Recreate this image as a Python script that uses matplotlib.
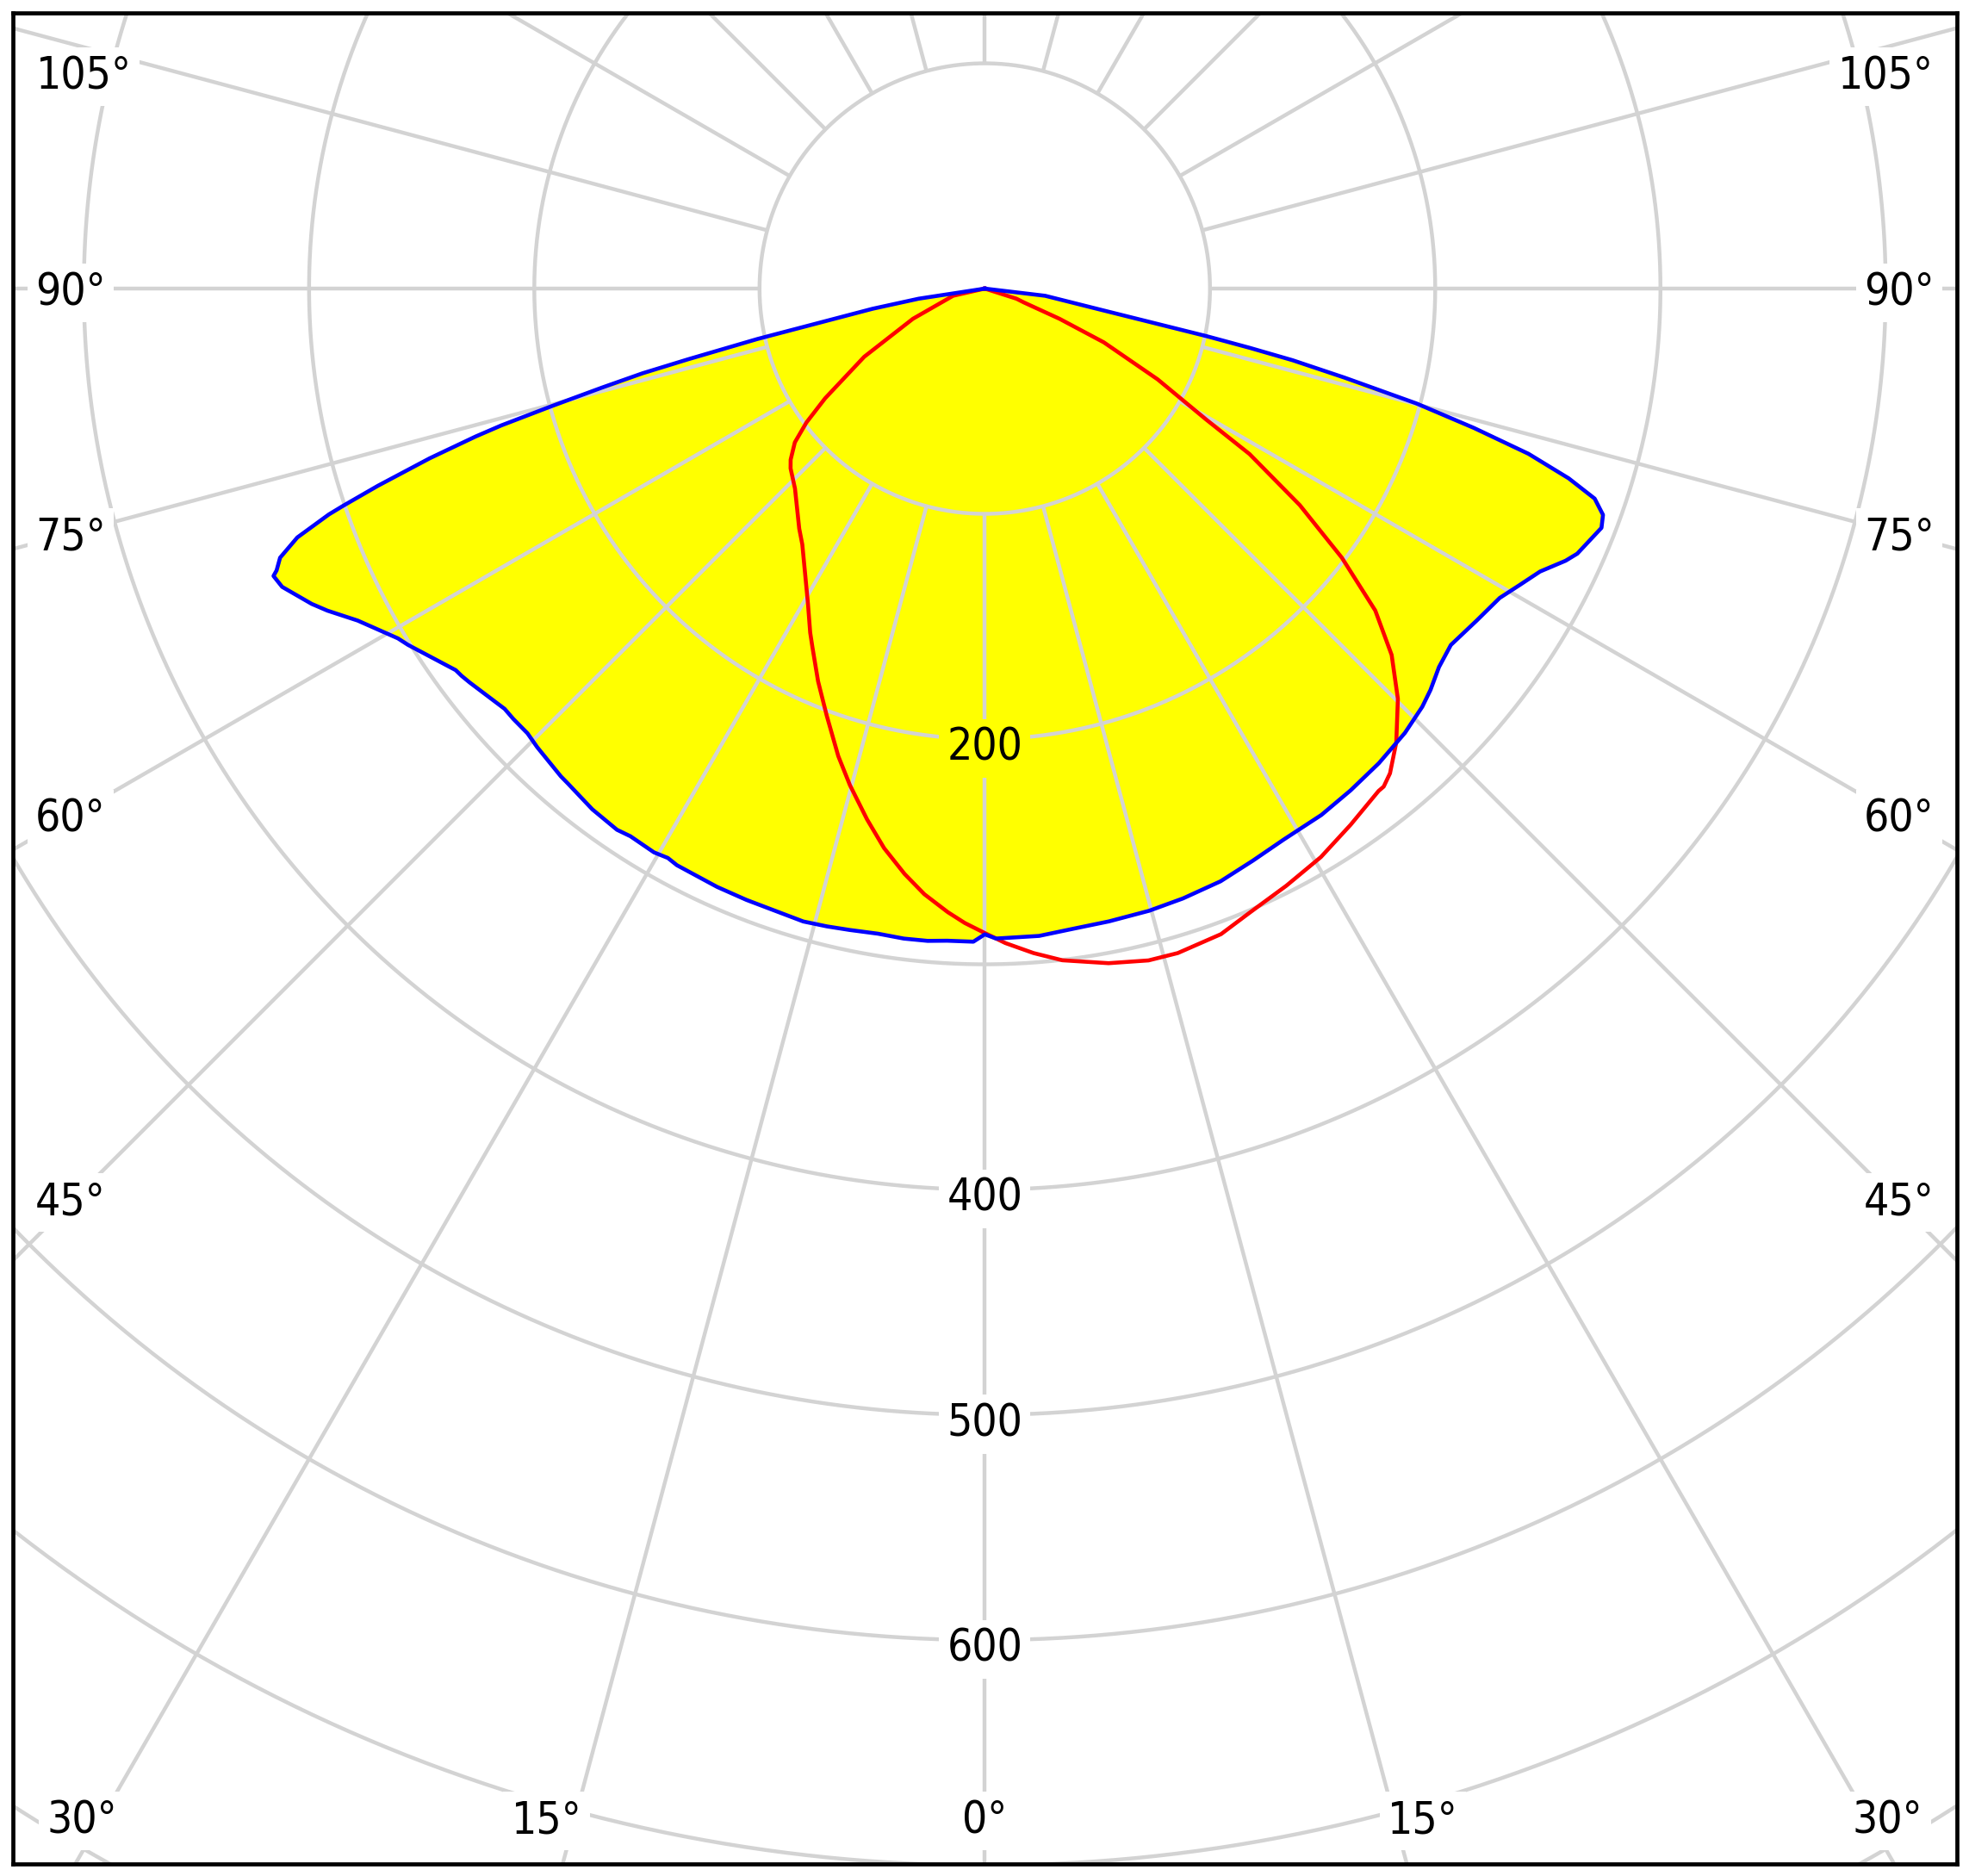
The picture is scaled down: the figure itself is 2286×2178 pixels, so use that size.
import numpy as np
import matplotlib
matplotlib.use("Agg")
from matplotlib import pyplot as plt

# Courbe C0 / C180 (bleue, remplie) : angle gamma en degrés, intensité en cd
c180_gamma = [90, 81.3, 79.8, 77.5, 76.6, 76.1, 75.5, 74.8, 74.2, 73.8,
              73.0, 72.0, 71.3, 71.0, 70.1, 69.1, 68.3, 68.0, 67.0, 64.9,
              63.9, 62.1, 59.2, 58.3, 54.2, 53.5, 52.6, 48.8, 47.6, 45.8,
              44.3, 41.0, 40.1, 37.0, 34.2, 32.9, 30.4, 29.1, 28.1, 24.1,
              21.3, 19.2, 16.0, 13.9, 11.9, 9.4, 7.1, 5.0, 3.3, 1.0]
c180_cd = [0, 29.7, 50.6, 103.3, 135.2, 156.5, 175.5, 199.8, 223.0, 235.4,
           257.7, 283.3, 300.7, 308.0, 324.6, 334.9, 338.4, 340.6, 338.9, 330.0,
           325.0, 315.0, 303.3, 301.0, 289.6, 289.0, 287.9, 283.3, 283.4, 283.2,
           284.5, 286.9, 287.3, 289.5, 290.5, 289.6, 290.2, 289.3, 290.2, 291.0,
           291.3, 291.4, 292.3, 291.7, 291.0, 290.3, 290.8, 290.7, 290.0, 290.0]
c0_gamma = [0, 1.0, 4.8, 7.9, 11.1, 14.8, 18.0, 21.7, 25.1, 28.5,
            32.6, 36.1, 39.7, 43.4, 46.3, 48.0, 50.2, 52.6, 56.0, 59.0,
            61.0, 63.0, 64.9, 65.9, 68.8, 69.9, 71.0, 72.0, 73.1, 74.1,
            75.1, 76.1, 76.9, 77.4, 77.9, 79.6, 83.2, 90]
c0_cd = [286.7, 288.6, 288.4, 286.9, 286.3, 285.7, 284.7, 283.2, 280.5, 278.3,
         277.4, 275.7, 273.9, 271.5, 268.7, 266.3, 262.5, 260.5, 263.5, 266.7,
         271.5, 276.7, 284.8, 288.2, 293.7, 292.3, 286.4, 272.6, 252.3, 225.8,
         198.3, 164.5, 140.3, 120.4, 100.6, 53.2, 27.0, 0]

# Courbe C90 / C270 (rouge)
c270_gamma = [90, 77.2, 67.2, 60.5, 55.5, 53.1, 51.0, 48.6, 47.2, 43.5,
              37.7, 35.5, 32.4, 29.3, 26.9, 25.7, 23.0, 20.3, 17.4, 15.2,
              12.5, 10.2, 7.8, 5.7, 3.4, 1.8]
c270_cd = [0, 14.4, 34.6, 61.5, 86.0, 99.0, 108.5, 114.9, 117.5, 122.4,
           134.7, 139.5, 149.0, 160.4, 171.3, 176.5, 189.4, 202.2, 217.5, 228.4,
           241.4, 252.4, 262.3, 270.2, 277.3, 281.8]
c90_gamma = [0, 1.8, 4.2, 6.6, 10.4, 13.7, 16.2, 20.1, 23.0, 26.8,
             30.6, 34.3, 38.1, 38.7, 39.9, 42.2, 45.2, 48.0, 50.5, 53.0,
             55.5, 58.0, 59.4, 62.3, 65.7, 68.0, 70.5, 72.3, 90]
c90_cd = [286.1, 290.7, 295.8, 300.2, 304.5, 307.0, 307.2, 305.2, 301.0, 297.0,
          293.2, 288.2, 283.4, 283.3, 280.5, 272.0, 258.5, 243.1, 224.7, 198.5,
          169.7, 138.6, 114.2, 86.7, 58.0, 35.8, 18.4, 14.8, 0]

# Grille
ring_values = [100, 200, 300, 400, 500, 600, 700, 800, 900]
ring_labels = [200, 400, 500, 600]
spoke_angles = np.arange(0, 360, 15)

# Etiquettes d'angle (texte, x, y de la ligne de base)
side_labels = ["105°", "90°", "75°", "60°", "45°"]
side_x = [399.9, 406.0, 406.0, 406.0, 406.0]
side_y = [88.7, -7.3, -115.9, -240.9, -411.1]
bottom_labels = ["30°", "15°", "0°", "15°", "30°"]
bottom_x = [-400.9, -194.6, 0, 194.6, 400.9]
bottom_y = -685.7


def to_xy(gamma, cd, side):
    g = np.radians(np.asarray(gamma, dtype=float))
    cd = np.asarray(cd, dtype=float)
    return side * cd * np.sin(g), -cd * np.cos(g)


fig = plt.figure(figsize=(22.86, 21.78), dpi=100)
ax = fig.add_axes([14.7 / 2286, 14 / 2178, 2257.2 / 2286, 2149.3 / 2178])
ax.set_xlim(-431.6, 431.6)
ax.set_ylim(-699.4, 122.5)
ax.set_xticks([])
ax.set_yticks([])
for s in ax.spines.values():
    s.set_linewidth(3.4)
    s.set_color("black")

grid_kw = dict(color="#d3d3d3", lw=3.2, zorder=2, solid_capstyle="butt")

# Cercles
t = np.linspace(0, 2 * np.pi, 1441)
for r in ring_values:
    ax.plot(r * np.cos(t), r * np.sin(t), **grid_kw)

# Rayons (à partir du premier cercle)
for a in spoke_angles:
    ar = np.radians(a)
    ax.plot([100 * np.sin(ar), 1200 * np.sin(ar)],
            [-100 * np.cos(ar), -1200 * np.cos(ar)], **grid_kw)

# Courbe bleue remplie
lx, ly = to_xy(c180_gamma, c180_cd, -1)
rx, ry = to_xy(c0_gamma, c0_cd, 1)
bx = np.concatenate([lx, rx])
by = np.concatenate([ly, ry])
ax.fill(bx, by, color="#ffff00", lw=0, zorder=1)

# Courbe rouge puis bleue par-dessus
lx, ly = to_xy(c270_gamma, c270_cd, -1)
rx, ry = to_xy(c90_gamma, c90_cd, 1)
ax.plot(np.concatenate([lx, rx]), np.concatenate([ly, ry]),
        color="#ff0000", lw=3.3, zorder=4, solid_joinstyle="round")
ax.plot(np.append(bx, bx[0]), np.append(by, by[0]),
        color="#0000ff", lw=3.3, zorder=5, solid_joinstyle="round")

font = dict(fontsize=37, family=["DejaVu Sans Condensed", "DejaVu Sans"],
            stretch="condensed", color="black", zorder=3)


def label(x, y, txt, bg="white"):
    ax.text(x, y, txt, ha="center", va="baseline",
            bbox=dict(boxstyle="square,pad=0.18", fc=bg, ec="none"), **font)


for v in ring_labels:
    label(0, -(v + 9.5), str(v), bg="#ffff00" if v == 200 else "white")

for txt, x, y in zip(side_labels, side_x, side_y):
    label(-x, y, txt)
    label(x, y, txt)

for txt, x in zip(bottom_labels, bottom_x):
    label(x, bottom_y, txt)

fig.savefig("out.png", dpi=100)
